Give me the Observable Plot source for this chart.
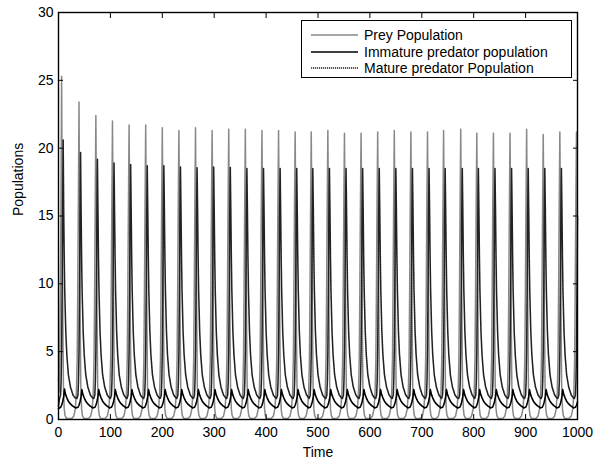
<!DOCTYPE html>
<html>
<head>
<meta charset="utf-8">
<script src="https://cdn.jsdelivr.net/npm/d3@7"></script>
<script src="https://cdn.jsdelivr.net/npm/@observablehq/plot@0.6"></script>
<style>
  body { margin: 0; background: #fff; }
  #wrap { position: relative; width: 607px; height: 464px; font-family: "Liberation Sans", Arial, sans-serif; }
  #legend { position: absolute; left: 301px; top: 20px; width: 271px; height: 58px; border: 1px solid #000; background: #fff; box-sizing: border-box; font-size: 14px; }
  #legend .row { position: absolute; left: 9px; height: 16px; display: flex; align-items: center; }
  #legend .row span { margin-left: 6px; white-space: nowrap; }
</style>
</head>
<body>
<div id="wrap"></div>
<script>
// Time of each prey peak
const peakTimes = [6, 39.5, 72, 104, 136, 168, 200, 232, 264, 296, 328, 360, 392, 424, 456, 487, 519, 551, 583, 615, 647, 679, 711, 742, 775, 806, 838, 870, 902, 934, 966, 998];
// Prey peak heights
const preyPeaks = [25.3, 23.4, 22.4, 22.0, 21.7, 21.7, 21.5, 21.3, 21.5, 21.3, 21.4, 21.4, 21.3, 21.3, 21.2, 21.2, 21.3, 21.1, 21.1, 21.2, 21.3, 21.2, 21.2, 21.3, 21.4, 21.1, 21.1, 21.1, 21.4, 21.0, 21.2, 21.2];
// Mature predator peak heights
const maturePeaks = [20.6, 19.7, 19.2, 18.9, 18.8, 18.7, 18.7, 18.6, 18.55, 18.6, 18.6, 18.5, 18.5, 18.5, 18.5, 18.5, 18.5, 18.5, 18.5, 18.5, 18.5, 18.5, 18.5, 18.5, 18.5, 18.5, 18.5, 18.5, 18.5, 18.5, 18.5, 18.5];
// Immature predator cusp heights
const immaturePeaks = [2.25, 2.2, 2.2, 2.2, 2.2, 2.2, 2.2, 2.2, 2.2, 2.2, 2.2, 2.2, 2.2, 2.2, 2.2, 2.2, 2.2, 2.2, 2.2, 2.2, 2.2, 2.2, 2.2, 2.2, 2.2, 2.2, 2.2, 2.2, 2.2, 2.2, 2.2, 2.2];

// One cycle's shape: offsets (time after the prey peak) and levels (null = the cycle's peak)
const preyOffsets = [-14, -10, -7, -5, -3.5, -2.5, -1.2, 0, 1.2, 2.4, 3.5, 5, 6.5, 9, 13];
const preyLevels  = [0.08, 0.25, 0.8, 2.0, 4.5, 9, 16, null, 15, 7, 2.5, 0.8, 0.3, 0.1, 0.08];
const matureOffsets = [-4, -2, -1, 0, 1, 2, 3, 4, 5, 6, 8, 10, 13, 17, 22, 26];
const matureLevels  = [1.55, 1.8, 2.8, 5, 9.5, 15, null, 15.5, 12, 9.5, 6.5, 4.8, 3.3, 2.4, 1.8, 1.6];
const immatureOffsets = [-6, -2, 0, 2, 4, 5.5, 7.5, 10, 13, 17, 21, 25];
const immatureLevels  = [0.85, 0.9, 1.05, 1.3, 1.7, null, 1.85, 1.6, 1.35, 1.15, 1.0, 0.9];

// Values at time 0
const startValues = {prey: 3, immature: 0.8, mature: 1.0};

const xTicks = [0, 100, 200, 300, 400, 500, 600, 700, 800, 900, 1000];
const yTicks = [0, 5, 10, 15, 20, 25, 30];

function build(offsets, levels, peaks, start) {
  const pts = [{t: 0, v: start}];
  peakTimes.forEach((p, k) => {
    offsets.forEach((o, i) => {
      const t = p + o;
      if (t > 0 && t <= 1000) pts.push({t, v: levels[i] == null ? peaks[k] : levels[i]});
    });
  });
  return pts.sort((a, b) => a.t - b.t);
}

const prey = build(preyOffsets, preyLevels, preyPeaks, startValues.prey);
const immature = build(immatureOffsets, immatureLevels, immaturePeaks, startValues.immature);
const mature = build(matureOffsets, matureLevels, maturePeaks, startValues.mature);

const chart = Plot.plot({
  width: 607,
  height: 464,
  marginLeft: 58,
  marginRight: 30,
  marginTop: 12,
  marginBottom: 45,
  style: {fontFamily: "'Liberation Sans', Arial, sans-serif", fontSize: "14px", background: "#fff", color: "#000"},
  x: {domain: [0, 1000]},
  y: {domain: [0, 30]},
  marks: [
    Plot.line(prey, {x: "t", y: "v", stroke: "#888", strokeWidth: 1.5}),
    Plot.line(immature, {x: "t", y: "v", stroke: "#000", strokeWidth: 1.6}),
    Plot.line(mature, {x: "t", y: "v", stroke: "#222", strokeWidth: 1.6, strokeDasharray: "1.2,0.8"}),
    Plot.frame({stroke: "#000", strokeWidth: 1.4}),
    Plot.axisX({ticks: xTicks, tickSize: -5, tickPadding: 13, tickFormat: d => String(d), label: null, fontSize: 14}),
    Plot.axisX({anchor: "top", ticks: xTicks, tickSize: -5, tickFormat: () => "", label: null}),
    Plot.axisY({ticks: yTicks, tickSize: -5, tickPadding: 10, tickFormat: d => String(d), label: null, fontSize: 14}),
    Plot.axisY({anchor: "right", ticks: yTicks, tickSize: -5, tickFormat: () => "", label: null}),
    Plot.text(["Time"], {frameAnchor: "bottom", dy: 37, fontSize: 14, text: d => d}),
    Plot.text(["Populations"], {frameAnchor: "left", rotate: -90, dx: -40, fontSize: 14, text: d => d})
  ]
});

const wrap = document.getElementById("wrap");
wrap.appendChild(chart);

// Legend
const legendItems = [
  {label: "Prey Population", stroke: "#888", dash: null, width: 1.5},
  {label: "Immature predator population", stroke: "#000", dash: null, width: 1.6},
  {label: "Mature predator Population", stroke: "#222", dash: "1.2,0.8", width: 1.6}
];
const legend = document.createElement("div");
legend.id = "legend";
legendItems.forEach((it, i) => {
  const row = document.createElement("div");
  row.className = "row";
  row.style.top = (6 + i * 16.5) + "px";
  row.innerHTML = `<svg width="47" height="16"><line x1="0" x2="47" y1="8" y2="8" stroke="${it.stroke}" stroke-width="${it.width}" ${it.dash ? `stroke-dasharray="${it.dash}"` : ""}/></svg><span>${it.label}</span>`;
  legend.appendChild(row);
});
wrap.appendChild(legend);
</script>
</body>
</html>
